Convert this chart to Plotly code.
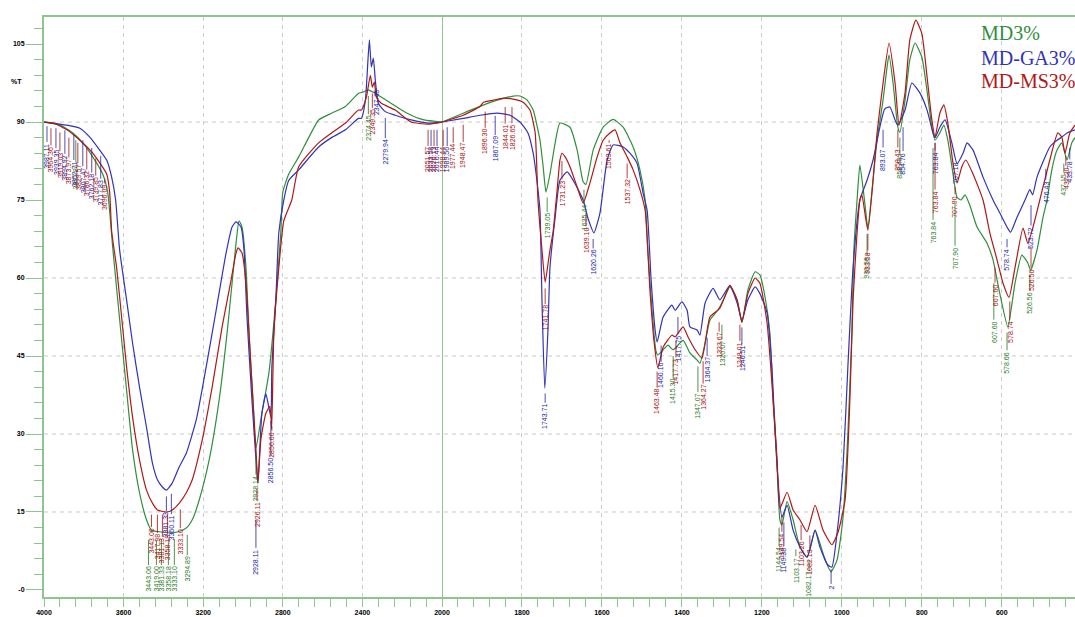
import numpy as np
import plotly.graph_objects as go

# ---------------- spectra (wavenumber cm-1, %T) ----------------
md3_wn = [4000, 3920, 3855, 3805, 3755, 3705, 3680, 3655, 3630, 3605, 3580, 3555, 3520, 3485, 3460, 3420,
          3355, 3305, 3280, 3255, 3220, 3170, 3120, 3080, 3055, 3035, 3020, 3005, 2985, 2970, 2950, 2935,
          2905, 2870, 2835, 2810, 2800, 2770, 2720, 2670, 2620, 2555, 2485, 2420, 2395, 2370, 2340, 2305,
          2175, 2090, 2000,
          1947, 1905, 1862, 1822, 1805, 1787, 1772, 1755, 1747, 1740, 1730, 1717, 1705, 1680, 1662, 1647,
          1640, 1622, 1597, 1572, 1547, 1522, 1505, 1492, 1485, 1475, 1465, 1460, 1447, 1435, 1422, 1397,
          1380, 1362, 1355, 1342, 1330, 1310, 1295, 1280, 1262, 1250, 1235, 1217, 1205, 1192, 1180, 1172,
          1162, 1155, 1150, 1137, 1122, 1105, 1087, 1080, 1067, 1055, 1042, 1027, 1012, 997, 985, 975,
          970, 962, 955, 942, 935, 927, 912, 897, 887, 882, 872, 860, 855, 842, 830, 817, 800, 787, 775,
          767, 755, 745, 735, 722, 712, 702, 692, 680, 662, 637, 622, 605, 585, 567, 550, 535, 528, 512,
          497, 487, 475, 462, 450, 437, 425, 417]
md3_t = [90.0, 89.4, 87.9, 86.0, 83.3, 80.0, 76.5, 66.0, 56.0, 46.2, 36.5, 27.0, 18.7, 13.5, 11.5, 11.2,
         11.0, 11.5, 12.1, 13.5, 17.3, 25.0, 36.5, 49.4, 59.0, 66.7, 71.0, 69.8, 62.0, 49.4, 36.5, 27.3,
         34.0, 41.7, 55.8, 68.7, 76.5, 80.0, 83.3, 87.0, 90.4, 91.7, 93.0, 95.5, 95.8, 96.2, 95.6, 94.8,
         91.7, 90.4, 90.0,
         91.7, 93.0, 94.2, 95.0, 95.0, 94.2, 92.3, 86.5, 81.4, 76.5, 80.0, 86.0, 89.8, 89.0, 84.6, 78.5,
         78.0, 84.6, 89.0, 90.5, 89.0, 85.2, 80.8, 75.0, 65.0, 54.0, 46.0, 45.2, 46.2, 47.1, 46.2, 48.0,
         45.6, 44.2, 43.6, 47.5, 51.9, 53.8, 56.0, 58.3, 55.8, 51.5, 57.7, 61.2, 60.6, 56.3, 49.4, 36.5,
         23.7, 13.5, 12.5, 17.0, 13.5, 8.3, 6.3, 7.7, 11.5, 9.0, 5.8, 3.5, 5.8, 14.0, 30.0, 49.4,
         65.4, 75.0, 81.7, 74.0, 69.5, 75.0, 86.5, 94.2, 100.6, 102.9, 97.5, 89.0, 88.0, 94.2, 102.0, 105.2, 102.5, 96.0, 89.0,
         86.5, 87.9, 89.4, 86.5, 80.0, 75.5, 75.0, 76.0, 74.0, 69.8, 66.7, 63.5, 57.0, 50.6, 59.0, 64.4, 62.9, 61.5, 65.4,
         71.7, 75.0, 80.8, 84.6, 86.0, 82.7, 86.0, 87.0]

ga_wn = [4000, 3885, 3820, 3770, 3720, 3685, 3660, 3640, 3620, 3585, 3555, 3520, 3485, 3455, 3430, 3405,
         3385, 3370, 3355, 3320, 3285, 3235, 3185, 3135, 3085, 3055, 3035, 3010, 2995, 2980, 2955, 2930,
         2925, 2905, 2885, 2860, 2855, 2835, 2820, 2795, 2770, 2720, 2620, 2555, 2485, 2420, 2405, 2385,
         2365, 2355, 2345, 2335, 2320, 2285, 2235, 2155, 2070, 2000,
         1947, 1905, 1862, 1830, 1805, 1785, 1772, 1762, 1755, 1750, 1743, 1735, 1730, 1717, 1705, 1687,
         1672, 1647, 1635, 1620, 1605, 1587, 1572, 1547, 1530, 1512, 1497, 1487, 1477, 1467, 1462, 1447,
         1425, 1417, 1400, 1387, 1380, 1362, 1355, 1342, 1322, 1305, 1280, 1262, 1250, 1235, 1217, 1205,
         1187, 1175, 1162, 1150, 1137, 1122, 1105, 1087, 1067, 1055, 1035, 1025, 1012, 997, 985, 972,
         955, 937, 922, 905, 893, 880, 867, 860, 842, 825, 805, 787, 772, 767, 755, 742, 725, 712, 697,
         687, 672, 647, 622, 605, 587, 578, 562, 542, 530, 523, 512, 480, 462, 450, 437, 417]
ga_t = [90.0, 89.4, 88.8, 87.1, 84.6, 82.7, 79.4, 75.0, 65.4, 55.8, 47.5, 39.0, 31.3, 24.4, 21.2, 19.8,
        19.2, 19.8, 20.6, 23.7, 26.3, 32.7, 42.9, 53.8, 64.8, 69.8, 70.8, 69.8, 65.4, 52.5, 36.5, 22.5,
        20.6, 34.0, 37.7, 33.3, 43.0, 55.8, 68.7, 75.0, 78.8, 80.8, 85.2, 87.0, 88.5, 90.7, 90.7, 94.2,
        105.8, 100.6, 102.3, 98.0, 93.6, 92.0, 91.3, 90.4, 89.8, 90.0,
        90.7, 91.3, 91.7, 91.3, 90.0, 87.9, 84.0, 78.3, 73.0, 55.8, 38.8, 50.0, 62.0, 71.7, 78.8, 80.4,
        78.8, 75.0, 71.5, 68.7, 72.5, 82.7, 85.6, 85.2, 84.0, 82.0, 76.3, 73.0, 59.6, 50.0, 47.7, 52.5,
        54.8, 53.8, 55.4, 53.8, 50.6, 50.0, 49.0, 55.2, 58.0, 55.8, 58.6, 55.2, 51.9, 55.8, 58.3, 57.0,
        53.3, 42.9, 23.7, 14.0, 16.3, 11.5, 8.3, 6.3, 11.5, 8.3, 4.8, 4.4, 11.0, 23.7, 42.9, 62.0,
        75.0, 78.8, 82.7, 89.0, 92.5, 92.9, 90.4, 89.4, 92.3, 97.5, 95.6, 92.3, 87.9, 87.0, 89.0, 90.4, 86.0, 82.0, 84.0,
        86.0, 84.6, 79.4, 75.0, 72.5, 69.8, 68.8, 71.7, 75.0, 77.0, 76.0, 79.4, 85.2, 86.5, 87.1, 87.9, 88.5]

ms_wn = [4000, 3950, 3885, 3820, 3755, 3685, 3670, 3660, 3635, 3610, 3585, 3555, 3520, 3485, 3455, 3430,
         3385, 3355, 3320, 3285, 3255, 3205, 3155, 3105, 3060, 3035, 3025, 3005, 2985, 2960, 2935, 2925,
         2910, 2885, 2865, 2856, 2845, 2820, 2795, 2755, 2720, 2620, 2555, 2485, 2420, 2405, 2380, 2360,
         2350, 2340, 2330, 2305, 2235, 2155, 2070, 2000,
         1947, 1905, 1896, 1872, 1847, 1822, 1797, 1780, 1767, 1760, 1750, 1742, 1735, 1730, 1722, 1712,
         1705, 1700, 1692, 1680, 1662, 1647, 1630, 1612, 1597, 1580, 1567, 1555, 1537, 1522, 1505, 1492,
         1480, 1470, 1460, 1447, 1425, 1417, 1397, 1385, 1367, 1350, 1330, 1305, 1280, 1262, 1250, 1235,
         1217, 1205, 1187, 1175, 1162, 1155, 1137, 1122, 1105, 1087, 1067, 1047, 1025, 1010, 992, 980,
         972, 962, 955, 950, 935, 912, 897, 882, 867, 857, 842, 830, 815, 800, 787, 775, 767, 755, 745,
         735, 722, 712, 700, 690, 672, 647, 630, 612, 597, 582, 567, 547, 535, 522, 505, 480, 460, 450,
         442, 430, 417]
ms_t = [90.0, 89.8, 88.5, 86.5, 84.0, 80.0, 76.5, 69.0, 62.0, 52.5, 42.9, 33.3, 25.0, 19.2, 16.7, 15.4,
        15.0, 15.4, 16.7, 18.7, 21.2, 28.8, 39.0, 50.6, 59.6, 64.8, 65.8, 64.8, 59.0, 42.9, 27.0, 20.6,
        29.0, 34.0, 35.3, 31.0, 49.4, 62.0, 71.0, 75.0, 81.4, 86.0, 87.9, 89.8, 92.3, 92.3, 94.8, 99.0,
        96.7, 97.7, 94.8, 93.6, 92.3, 90.0, 89.6, 90.0,
        91.3, 93.0, 93.8, 94.2, 94.6, 94.4, 93.8, 92.3, 87.9, 75.0, 65.4, 59.2, 62.7, 65.4, 69.0, 77.0,
        82.7, 84.0, 83.3, 81.4, 77.5, 74.4, 78.3, 83.3, 86.5, 87.9, 88.5, 86.0, 83.3, 80.8, 77.0, 73.0,
        57.7, 48.0, 42.7, 46.7, 49.0, 48.7, 50.6, 48.7, 46.2, 44.6, 52.5, 54.2, 58.6, 55.8, 51.5, 57.0,
        60.0, 59.0, 51.3, 39.8, 25.0, 15.7, 18.8, 15.4, 13.5, 11.2, 16.3, 11.5, 8.7, 11.0, 17.3, 36.5,
        55.8, 68.7, 75.0, 76.0, 69.2, 87.9, 97.5, 105.2, 97.5, 89.4, 95.6, 105.8, 109.6, 107.0, 98.7, 90.4, 87.1, 91.7, 93.3,
        89.8, 82.0, 78.3, 81.4, 82.7, 80.0, 75.0, 68.7, 63.5, 59.0, 56.3, 62.0, 69.6, 66.7, 69.8, 75.0, 82.7, 87.9, 87.1,
        84.0, 87.9, 89.4]

series_names = ["MD3%", "MD-GA3%", "MD-MS3%"]

# ---------------- peak labels: (text, wavenumber, tip %T, label-centre %T) ----------------
md3_peaks = [
    ("3837.81", 3840, 86.5, 79.5),
    ("3443.06", 3475, 9.6, 2.1), ("3419.00", 3435, 9.6, 2.1), ("3381.33", 3410, 9.8, 2.1),
    ("3358.18", 3375, 9.8, 2.1), ("3333.10", 3345, 9.8, 2.1), ("3294.89", 3280, 10.6, 4.0),
    ("2928.14", 2935, 26.0, 19.5), ("2374.45", 2370, 95.0, 88.8),
    ("1739.05", 1737, 75.5, 70.0), ("1635.44", 1645, 77.0, 71.7),
    ("1415.30", 1422, 45.0, 38.1), ("1347.07", 1360, 43.0, 35.4), ("1320.07", 1300, 51.0, 45.5),
    ("1144.54", 1157, 12.0, 5.8), ("1103.17", 1115, 7.8, 3.8), ("1082.17", 1082, 5.8, 1.0),
    ("933.56", 937, 68.5, 62.0), ("858.48", 855, 87.0, 81.2), ("763.84", 772, 85.0, 68.8),
    ("707.90", 717, 74.5, 63.8), ("607.60", 620, 59.0, 49.6), ("578.66", 587, 49.5, 43.7),
    ("526.56", 530, 60.5, 55.2), ("437.15", 445, 82.0, 77.9),
]
ga_peaks = [
    ("3987.11", 3985, 89.2, 83.5), ("3939.35", 3940, 88.8, 82.3), ("3894.92", 3895, 88.4, 81.2),
    ("3852.71", 3850, 87.5, 80.0), ("3807.47", 3805, 86.5, 78.8), ("3762.18", 3760, 85.0, 77.6),
    ("3717.83", 3715, 83.5, 76.4),
    ("3381.33", 3385, 18.0, 12.5), ("3360.11", 3360, 18.5, 11.9),
    ("2928.11", 2935, 13.5, 5.4), ("2856.50", 2860, 32.5, 23.0),
    ("2347.45", 2330, 96.5, 93.7), ("2279.94", 2285, 90.8, 84.2),
    ("2033.58", 2055, 88.5, 82.7), ("2016.44", 2025, 88.5, 82.7), ("1989.56", 1987, 89.0, 82.7),
    ("1867.09", 1867, 91.2, 84.8), ("1743.71", 1742, 37.8, 33.3), ("1620.26", 1622, 67.5, 63.0),
    ("1460.16", 1452, 47.0, 41.2), ("1417.75", 1410, 52.5, 46.5), ("1364.37", 1337, 48.5, 42.3),
    ("1246.51", 1250, 50.5, 44.6), ("1149.38", 1145, 13.0, 5.8), ("2", 1027, 4.0, 0.5),
    ("893.07", 897, 88.5, 82.7), ("854.76", 847, 89.0, 82.0), ("763.84", 767, 86.0, 82.1),
    ("707.18", 715, None, 80.2), ("578.74", 587, 67.5, 63.5), ("523.72", 527, 74.0, 67.7),
    ("476.43", 490, 81.0, 76.5), ("433.78", 430, 85.0, 80.4),
]
ms_peaks = [
    ("3964.36", 3965, 88.8, 82.8), ("3919.03", 3920, 88.0, 81.7), ("3873.97", 3875, 87.0, 80.5),
    ("3829.57", 3830, 86.0, 79.4), ("3786.32", 3785, 85.0, 78.2), ("3739.85", 3740, 83.0, 77.0),
    ("3696.09", 3695, 79.0, 75.5),
    ("3443.06", 3460, 14.5, 9.4), ("3417.98", 3430, 14.5, 8.3), ("3381.13", 3405, 14.5, 7.5),
    ("3358.18", 3380, 14.5, 8.1), ("3333.10", 3315, 15.5, 9.2),
    ("2926.11", 2930, 19.5, 14.6), ("2856.60", 2855, 31.5, 27.9), ("2349.35", 2350, 95.5, 90.0),
    ("2051.57", 2070, 88.5, 82.7), ("2026.13", 2040, 88.5, 82.7), ("1998.44", 1997, 88.5, 82.7),
    ("1977.44", 1972, 89.0, 83.3), ("1948.47", 1947, 89.5, 83.5),
    ("1896.30", 1892, 92.0, 86.2), ("1844.01", 1842, 92.9, 87.0), ("1826.65", 1825, 92.9, 87.1),
    ("1741.78", 1742, 58.0, 52.3), ("1731.23", 1700, 82.5, 76.3), ("1639.10", 1640, 72.5, 67.3),
    ("1563.61", 1582, 86.5, 83.3), ("1537.32", 1537, 82.0, 76.5),
    ("1463.48", 1462, 42.0, 36.2), ("1417.73", 1415, 48.0, 42.0), ("1364.27", 1347, 44.0, 37.0),
    ("1323.67", 1307, 51.5, 47.0), ("1248.01", 1255, 51.0, 45.2),
    ("1149.54", 1150, 14.5, 8.5), ("1103.26", 1102, 12.5, 6.9), ("1082.13", 1080, 10.5, 5.4),
    ("933.58", 935, 68.5, 62.9), ("858.43", 860, 88.5, 82.7), ("763.84", 767, 86.0, 74.6),
    ("707.90", 717, 77.5, 73.7), ("607.60", 617, 62.0, 56.7), ("578.74", 580, 55.5, 49.6),
    ("526.56", 527, 66.0, 59.6), ("437.20", 440, 83.5, 79.2),
]

x_ticks_left = [4000, 3600, 3200, 2800, 2400, 2000]
x_ticks_right = [1800, 1600, 1400, 1200, 1000, 800, 600]
y_ticks = [0, 15, 30, 45, 60, 75, 90, 105]
y_ticktext = ["-0", "15", "30", "45", "60", "75", "90", "105"]
y_grid = [15, 30, 45, 60, 90]

# ---------------- styling ----------------
LINE_COLORS = ["#2f8f3a", "#3232b8", "#b01818"]
TEXT_COLORS = ["#1f7a25", "#2020a8", "#a80c0c"]
AX = "#8fc48f"
SPLIT = 2000
D = (442 - 44) / 1031.0

fig = go.Figure()
for name, wn, t, col in zip(series_names, [md3_wn, ga_wn, ms_wn], [md3_t, ga_t, ms_t], LINE_COLORS):
    wn = np.asarray(wn, float)
    t = np.asarray(t, float)
    for mask, xa in ((wn >= SPLIT, "x"), (wn <= SPLIT, "x2")):
        fig.add_trace(go.Scatter(
            x=wn[mask], y=t[mask], xaxis=xa, yaxis="y", mode="lines", name=name,
            line=dict(color=col, width=1.2, shape="spline", smoothing=0.5),
            showlegend=False, hoverinfo="skip"))

annotations = []
for peaks, col in zip([md3_peaks, ga_peaks, ms_peaks], TEXT_COLORS):
    for text, wn, tip, centre in peaks:
        xr = "x" if wn >= SPLIT else "x2"
        a = dict(text=text, xref=xr, yref="y", textangle=-90,
                 font=dict(family="Liberation Sans, Arial", size=7, color=col))
        if tip is None:
            a.update(x=wn, y=centre, showarrow=False)
        else:
            a.update(x=wn, y=tip, ax=wn, ay=centre, axref=xr, ayref="y", showarrow=True,
                     arrowhead=0, arrowwidth=0.8, arrowcolor=col, standoff=0, startstandoff=0)
        annotations.append(a)

# legend text
for name, col, yp in zip(series_names, LINE_COLORS, [0.973, 0.930, 0.889]):
    annotations.append(dict(text=name, xref="paper", yref="paper", x=(979 - 44) / 1031.0, y=yp,
                            xanchor="left", yanchor="middle", showarrow=False,
                            font=dict(family="Liberation Serif, Times New Roman", size=20, color=col)))
# %T axis label
annotations.append(dict(text="%T", xref="paper", yref="y", x=0, y=97.7, xanchor="right", xshift=-20,
                        showarrow=False,
                        font=dict(family="Liberation Sans, Arial", size=7, color="#000", weight="bold")))

shapes = [dict(type="line", xref="paper", yref="y", x0=0, x1=1, y0=g, y1=g, layer="below",
               line=dict(color="#c9c9c9", width=1, dash="4px,4px")) for g in y_grid]
shapes.append(dict(type="line", xref="x2", yref="paper", x0=SPLIT, x1=SPLIT, y0=0, y1=1, layer="below",
                   line=dict(color=AX, width=2)))

tickfont = dict(family="Liberation Sans, Arial", size=7, color="#000", weight="bold")
common_x = dict(tickmode="array", ticks="outside", ticklen=8, tickwidth=1, tickcolor=AX,
                showline=True, linecolor=AX, linewidth=2, mirror=True,
                showgrid=True, gridcolor="#cdcdcd", griddash="4px,4px", gridwidth=1,
                zeroline=False, tickfont=tickfont, anchor="y", automargin=False)

fig.update_layout(
    width=1075, height=617, margin=dict(l=44, r=0, t=17, b=20),
    paper_bgcolor="white", plot_bgcolor="white", showlegend=False,
    xaxis=dict(domain=[0, D], range=[4000, 2000], tickvals=x_ticks_left,
               minor=dict(tickmode="array", tickvals=list(np.arange(2000, 4001, 80)), ticks="outside",
                          ticklen=8, tickcolor=AX, tickwidth=1, showgrid=False),
               **common_x),
    xaxis2=dict(domain=[D, 1], range=[2000, 417], tickvals=x_ticks_right,
                minor=dict(tickmode="array", tickvals=list(np.arange(400, 2001, 40)), ticks="outside",
                           ticklen=8, tickcolor=AX, tickwidth=1, showgrid=False),
                **common_x),
    yaxis=dict(range=[-1.35, 110.2], tickmode="array", tickvals=y_ticks, ticktext=y_ticktext,
               ticks="outside", ticklen=16, tickwidth=1, tickcolor=AX,
               minor=dict(tickmode="array", tickvals=list(np.arange(0, 111, 3)), ticks="outside",
                          ticklen=8, tickcolor=AX, tickwidth=1, showgrid=False),
               showline=True, linecolor=AX, linewidth=2, showgrid=False, zeroline=False,
               tickfont=tickfont, anchor="x", automargin=False),
    annotations=annotations, shapes=shapes,
)

fig.write_html("out.html")
